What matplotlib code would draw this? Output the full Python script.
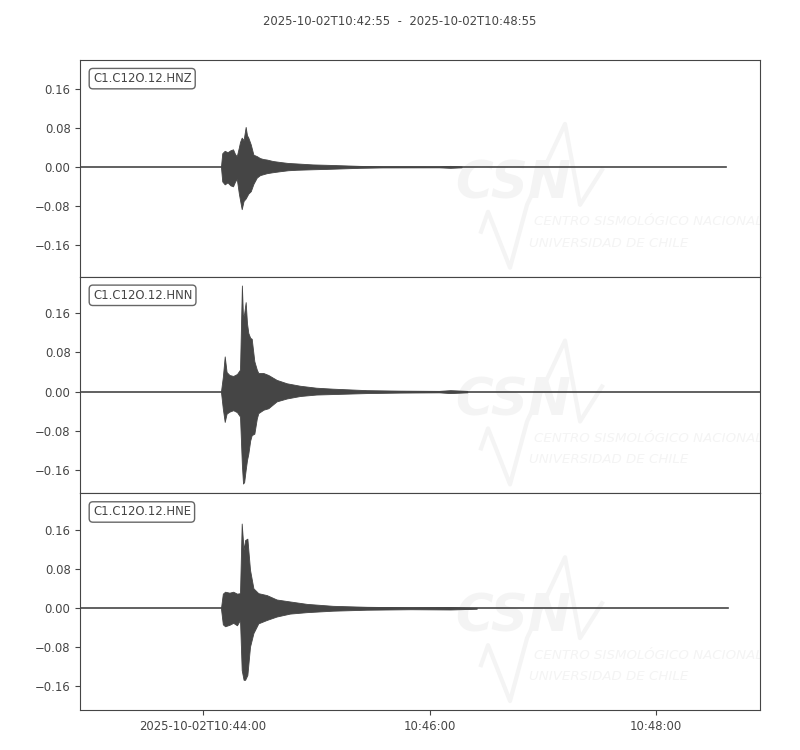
import numpy as np
import matplotlib.pyplot as plt

plt.rcParams['font.size'] = 8.33
plt.rcParams['font.family'] = 'DejaVu Sans'

GREY = '#454545'

title = '2025-10-02T10:42:55  -  2025-10-02T10:48:55'
labels = ['C1.C12O.12.HNZ', 'C1.C12O.12.HNN', 'C1.C12O.12.HNE']

# seconds after 10:42:55
tick_pos = [65, 185, 305]
tick_lab = ['2025-10-02T10:44:00', '10:46:00', '10:48:00']
yticks = [-0.16, -0.08, 0.0, 0.08, 0.16]

trace_span = [(0, 342), (0, 360), (0, 343)]
ylims = [(-0.2256, 0.2195), (-0.208, 0.235), (-0.209, 0.236)]

# envelope: time (s), max, min
hnz_t = [74.5, 75.2, 76.5, 78.0, 79.5, 80.9, 82.0, 82.9, 84.0, 84.6, 85.5, 86.5, 87.6, 88.3,
         89.0, 90.3, 91.7, 93.5, 95.2, 97.0, 98.8, 102.0, 105.8, 110.0, 114.6, 123.0, 132.3,
         148.0, 160.0, 190.0, 196.0, 202.0]
hnz_hi = [0.0, 0.028, 0.033, 0.030, 0.034, 0.036, 0.026, 0.022, 0.040, 0.051, 0.060, 0.055, 0.082,
          0.065, 0.060, 0.046, 0.025, 0.022, 0.018, 0.016, 0.015, 0.012, 0.010, 0.008, 0.007,
          0.005, 0.004, 0.002, 0.0012, 0.001, 0.002, 0.001]
hnz_lo = [0.0, -0.030, -0.036, -0.032, -0.038, -0.040, -0.030, -0.025, -0.055, -0.068, -0.087,
          -0.070, -0.065, -0.060, -0.055, -0.050, -0.035, -0.022, -0.017, -0.015, -0.013, -0.011,
          -0.009, -0.007, -0.006, -0.005, -0.004, -0.002, -0.0012, -0.001, -0.002, -0.001]

hnn_t = [74.5, 75.5, 76.5, 77.5, 79.0, 81.0, 83.0, 84.6, 85.6, 86.2, 86.8, 87.6, 88.3, 89.0,
         90.0, 90.8, 92.2, 93.5, 94.3, 97.0, 99.6, 104.0, 109.4, 116.4, 125.0, 133.8, 151.7,
         169.4, 190.0, 196.0, 205.0]
hnn_hi = [0.0, 0.030, 0.072, 0.040, 0.034, 0.032, 0.036, 0.045, 0.217, 0.150, 0.160, 0.183, 0.140,
          0.120, 0.110, 0.108, 0.062, 0.045, 0.038, 0.038, 0.034, 0.024, 0.017, 0.012, 0.008,
          0.006, 0.003, 0.002, 0.0015, 0.003, 0.0015]
hnn_lo = [0.0, -0.035, -0.062, -0.045, -0.041, -0.038, -0.042, -0.051, -0.150, -0.188, -0.185,
          -0.160, -0.140, -0.127, -0.100, -0.089, -0.086, -0.055, -0.044, -0.037, -0.034, -0.020,
          -0.014, -0.009, -0.006, -0.005, -0.003, -0.002, -0.0015, -0.003, -0.0015]

hne_t = [74.5, 75.5, 76.7, 79.0, 81.0, 83.0, 84.6, 85.5, 86.5, 87.3, 88.5, 89.9, 91.7, 94.3,
         98.8, 104.0, 111.0, 120.0, 133.8, 151.7, 175.0, 196.0, 210.0]
hne_hi = [0.0, 0.030, 0.034, 0.032, 0.034, 0.030, 0.031, 0.174, 0.120, 0.140, 0.143, 0.079, 0.041,
          0.031, 0.027, 0.018, 0.014, 0.009, 0.005, 0.003, 0.002, 0.0025, 0.001]
hne_lo = [0.0, -0.033, -0.037, -0.034, -0.030, -0.035, -0.024, -0.127, -0.147, -0.147, -0.137,
          -0.079, -0.051, -0.031, -0.024, -0.017, -0.011, -0.008, -0.005, -0.003, -0.002, -0.0025,
          -0.001]

traces = [(hnz_t, hnz_hi, hnz_lo), (hnn_t, hnn_hi, hnn_lo), (hne_t, hne_hi, hne_lo)]

fig = plt.figure(figsize=(8, 7.5), dpi=100)
left, right, top, bottom = 0.1004, 0.9498, 0.92, 0.0533
h = (top - bottom) / 3

for i in range(3):
    ax = fig.add_axes([left, top - (i + 1) * h, right - left, h])
    t, hi, lo = traces[i]

    # faint CSN watermark
    wm = '#f4f4f4'
    ax.text(0.552, 0.31, 'CSN', transform=ax.transAxes, fontsize=37, fontweight='bold',
            style='italic', color=wm, zorder=0, ha='left', va='bottom', clip_on=True)
    ax.text(0.667, 0.253, 'CENTRO SISMOLÓGICO NACIONAL', transform=ax.transAxes,
            fontsize=9.6, style='italic', color=wm, zorder=0, va='center', clip_on=True)
    ax.text(0.660, 0.155, 'UNIVERSIDAD DE CHILE', transform=ax.transAxes,
            fontsize=9.6, style='italic', color=wm, zorder=0, va='center', clip_on=True)
    zx = np.array([481, 488, 510, 527, 565, 580, 602]) - 80.3
    zy = 277 - np.array([232, 212, 268, 205, 124, 205, 170])
    ax.plot(zx / 679.5, zy / 217, transform=ax.transAxes, color=wm, lw=3, zorder=0)

    ax.plot(trace_span[i], [0, 0], color=GREY, lw=1.2, zorder=2)
    ax.fill_between(t, lo, hi, color=GREY, lw=0.6, edgecolor=GREY, zorder=3)

    ax.set_xlim(0, 360)
    ax.set_ylim(*ylims[i])
    ax.set_yticks(yticks)
    ax.set_yticklabels(['{:.2f}'.format(v).replace('-', '\u2212') for v in yticks])
    ax.text(0.0185, 0.944, labels[i], transform=ax.transAxes, va='top', ha='left',
            fontsize=8.33, color=GREY, zorder=5,
            bbox=dict(boxstyle='round,pad=0.32', fc='white', ec='#666666', lw=1))
    for s in ax.spines.values():
        s.set_color(GREY)
    ax.tick_params(colors=GREY, labelcolor=GREY, labelsize=8.33)
    if i < 2:
        ax.set_xticks([])
    else:
        ax.set_xticks(tick_pos)
        ax.set_xticklabels(tick_lab)

fig.suptitle(title, y=0.98, fontsize=8.33, color=GREY)
plt.savefig('out.png', dpi=100)
